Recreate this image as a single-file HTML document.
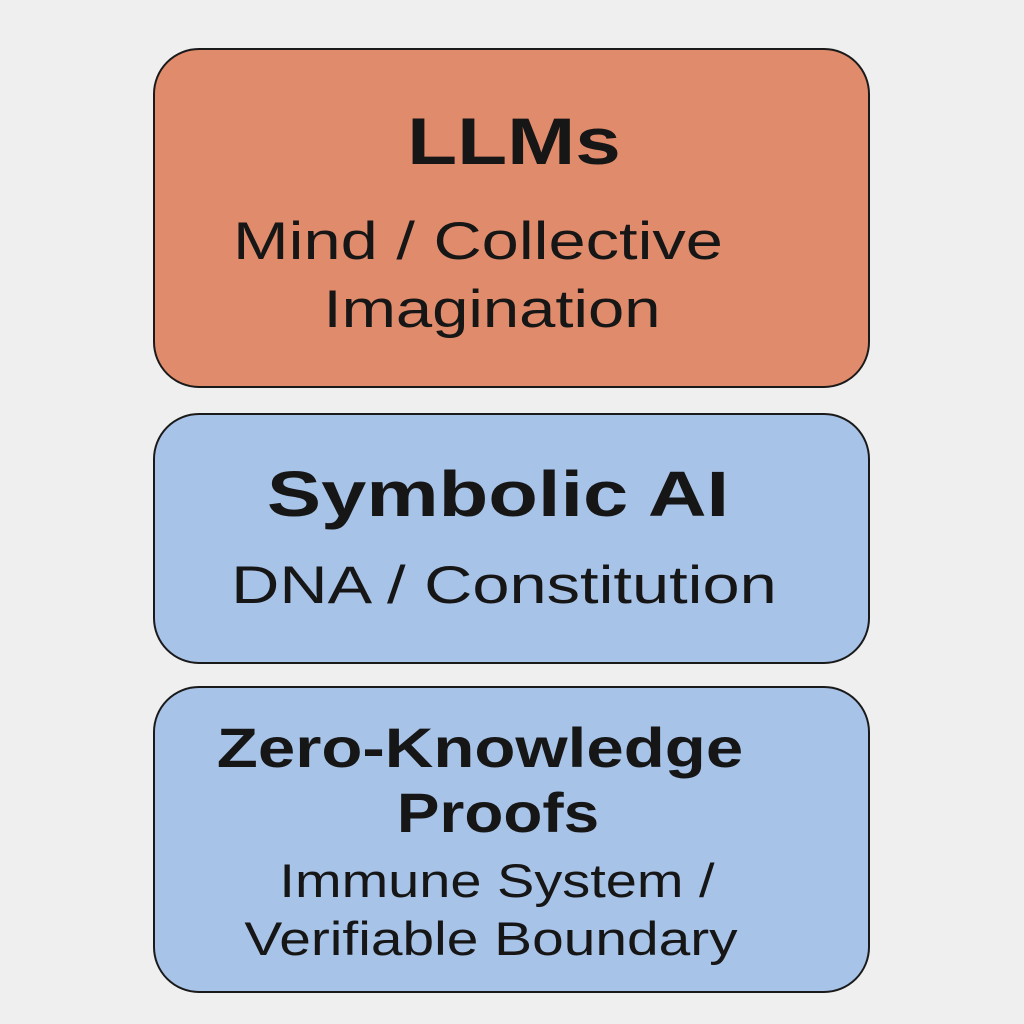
<!DOCTYPE html>
<html><head><meta charset="utf-8"><style>
body{margin:0;width:1024px;height:1024px;background:#efefef;position:relative;overflow:hidden;font-family:"Liberation Sans",sans-serif;color:#161616}
.box{position:absolute;left:153px;width:713px;border:2.5px solid #1a1a1a;border-radius:46px}
.t{position:absolute;white-space:nowrap;line-height:1;transform-origin:50% 50%}
.b{font-weight:bold}
</style></head><body>
<div class="box" style="top:48px;height:336px;background:#e08b6b"></div>
<div class="box" style="top:413px;height:247px;background:#a8c3e8"></div>
<div class="box" style="top:686px;height:303px;background:#a8c3e8"></div>
<div class="t b" style="top:108px;font-size:66px;left:514px;transform:translateX(-50%) scaleX(1.24)">LLMs</div>
<div class="t" style="top:215px;font-size:53px;left:478px;transform:translateX(-50%) scaleX(1.26)">Mind / Collective</div>
<div class="t" style="top:283px;font-size:53px;left:492px;transform:translateX(-50%) scaleX(1.23)">Imagination</div>
<div class="t b" style="top:462px;font-size:64px;left:498px;transform:translateX(-50%) scaleX(1.27)">Symbolic AI</div>
<div class="t" style="top:559px;font-size:53px;left:504px;transform:translateX(-50%) scaleX(1.26)">DNA / Constitution</div>
<div class="t b" style="top:720px;font-size:56px;left:480px;transform:translateX(-50%) scaleX(1.2)">Zero-Knowledge</div>
<div class="t b" style="top:785px;font-size:56px;left:498px;transform:translateX(-50%) scaleX(1.14)">Proofs</div>
<div class="t" style="top:857px;font-size:47px;left:497px;transform:translateX(-50%) scaleX(1.19)">Immune System /</div>
<div class="t" style="top:915px;font-size:47px;left:491px;transform:translateX(-50%) scaleX(1.21)">Verifiable Boundary</div>
</body></html>
